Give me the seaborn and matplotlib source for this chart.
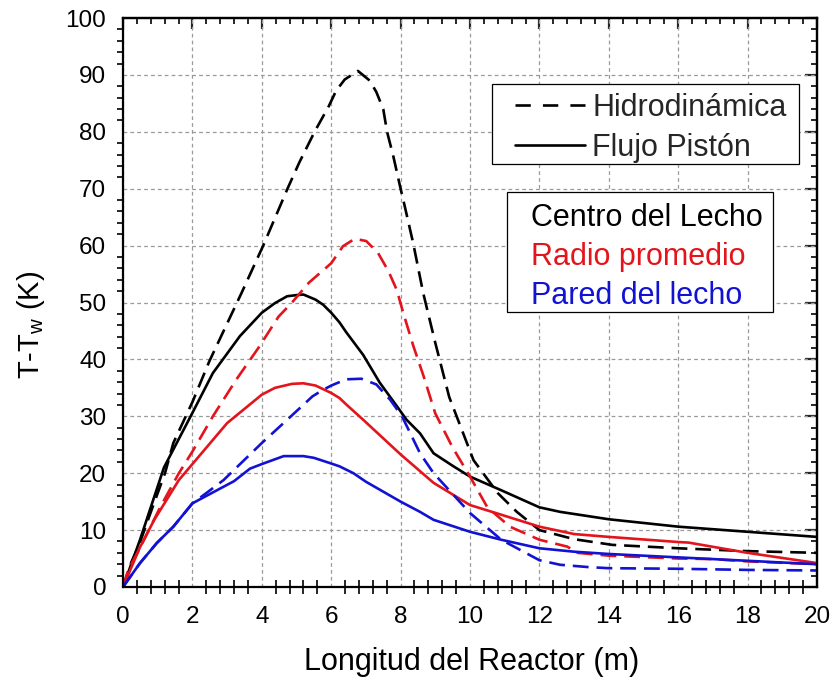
import matplotlib
matplotlib.use("Agg")
import matplotlib.pyplot as plt
from matplotlib.lines import Line2D
from matplotlib.patches import Rectangle
from matplotlib.ticker import MultipleLocator, AutoMinorLocator
import seaborn as sns
import pandas as pd

# Temperature rise over the wall temperature along the reactor length
x_hid_centro = [0, 0.25, 0.44, 0.85, 1.21, 1.45, 2.0, 2.49, 3.0, 3.41, 4.04, 4.74, 5.08, 5.52,
                5.93, 6.14, 6.39, 6.77, 7.11, 7.3, 7.5, 7.61, 7.79, 8.0, 8.12, 8.36, 8.65, 9.0,
                9.4, 10.1, 10.8, 11.35, 12.0, 13.0, 14.1, 16.0, 18.0, 20.0]
t_hid_centro = [0, 4.5, 7.0, 14.0, 20.0, 25.3, 32.5, 39.7, 46.3, 51.6, 60.0, 70.0, 74.6, 80.0,
                84.5, 87.2, 89.2, 90.7, 89.0, 87.0, 84.0, 80.0, 75.7, 70.0, 66.9, 60.5, 51.7,
                42.9, 33.4, 22.3, 16.5, 13.2, 10.0, 8.4, 7.4, 6.8, 6.3, 6.0]

x_pis_centro = [0, 0.49, 1.18, 2.0, 2.59, 3.37, 4.0, 4.38, 4.73, 5.0, 5.2, 5.55, 5.77, 6.0, 6.24,
                6.43, 6.92, 7.4, 7.89, 8.17, 8.56, 8.95, 9.5, 10.0, 10.9, 12.0, 12.6, 14.0, 16.0,
                18.0, 20.0]
t_pis_centro = [0, 8.3, 21.0, 30.6, 37.6, 44.1, 48.2, 49.9, 51.1, 51.3, 51.4, 50.5, 49.6, 48.2,
                46.5, 44.8, 40.8, 35.9, 31.8, 29.4, 27.0, 23.5, 21.3, 19.4, 17.0, 14.0, 13.2,
                11.9, 10.6, 9.7, 8.8]

x_hid_prom = [0, 0.15, 0.5, 1.07, 1.61, 2.0, 2.59, 3.27, 3.9, 4.48, 4.87, 5.36, 6.0, 6.34, 6.68,
              7.01, 7.35, 7.65, 7.89, 8.08, 8.37, 8.66, 9.0, 9.5, 10.0, 10.5, 11.15, 12.0, 12.8,
              13.1, 14.0, 16.0, 17.0, 18.0, 20.0]
t_hid_prom = [0, 3.0, 7.0, 14.0, 20.0, 23.8, 30.0, 36.5, 42.0, 47.5, 50.0, 53.5, 56.9, 59.9,
              61.2, 60.8, 58.7, 55.5, 52.2, 48.1, 42.3, 37.1, 30.5, 24.5, 19.4, 14.0, 10.6, 8.3,
              7.1, 6.0, 5.5, 5.0, 4.9, 4.5, 4.0]

x_pis_prom = [0, 0.49, 0.9, 1.61, 2.0, 3.0, 4.0, 4.38, 4.87, 5.2, 5.55, 6.0, 6.24, 6.43, 6.92,
              8.0, 8.95, 10.0, 10.9, 12.0, 13.0, 14.0, 16.0, 16.3, 18.0, 20.0]
t_pis_prom = [0, 7.0, 11.8, 18.8, 21.6, 28.8, 33.8, 35.0, 35.7, 35.8, 35.4, 34.1, 33.2, 32.1,
              29.4, 23.3, 18.3, 14.4, 12.7, 10.6, 9.3, 8.8, 7.9, 7.8, 6.0, 4.2]

x_hid_pared = [0, 0.49, 0.97, 1.45, 2.0, 2.4, 2.9, 4.0, 4.84, 5.46, 5.75, 6.0, 6.43, 6.87, 7.3,
               7.7, 8.04, 8.56, 8.95, 10.0, 10.9, 12.0, 12.6, 13.4, 14.0, 16.0, 18.0, 20.0]
t_hid_pared = [0, 4.2, 7.7, 10.6, 14.7, 16.5, 18.8, 25.3, 30.0, 33.5, 34.6, 35.4, 36.5, 36.6,
               35.6, 32.9, 30.0, 23.5, 20.0, 13.0, 8.3, 4.7, 3.9, 3.5, 3.3, 3.2, 3.0, 2.9]

x_pis_pared = [0, 0.49, 0.97, 1.45, 2.0, 3.2, 3.66, 4.0, 4.63, 5.2, 5.5, 6.0, 6.24, 6.64, 7.0,
               8.0, 8.56, 8.95, 10.0, 10.9, 12.0, 13.0, 14.0, 16.0, 18.0, 20.0]
t_pis_pared = [0, 4.2, 7.7, 10.6, 14.7, 18.6, 20.8, 21.6, 23.0, 23.0, 22.7, 21.7, 21.2, 20.0,
               18.5, 15.0, 13.2, 11.8, 9.7, 8.3, 6.8, 6.2, 5.8, 5.2, 4.6, 4.0]

modelos = ["Hidrodinámica", "Flujo Pistón"]
posiciones = ["Centro del Lecho", "Radio promedio", "Pared del lecho"]
colores = {"Centro del Lecho": "#000000",
           "Radio promedio": "#e3141c",
           "Pared del lecho": "#1212d2"}
x_ticks = [0, 2, 4, 6, 8, 10, 12, 14, 16, 18, 20]
y_ticks = [0, 10, 20, 30, 40, 50, 60, 70, 80, 90, 100]

series = [
    ("Centro del Lecho", "Hidrodinámica", x_hid_centro, t_hid_centro),
    ("Centro del Lecho", "Flujo Pistón", x_pis_centro, t_pis_centro),
    ("Radio promedio", "Hidrodinámica", x_hid_prom, t_hid_prom),
    ("Radio promedio", "Flujo Pistón", x_pis_prom, t_pis_prom),
    ("Pared del lecho", "Hidrodinámica", x_hid_pared, t_hid_pared),
    ("Pared del lecho", "Flujo Pistón", x_pis_pared, t_pis_pared),
]
df = pd.concat(
    [pd.DataFrame({"L": xs, "dT": ts, "Posición": pos, "Modelo": mod})
     for pos, mod, xs, ts in series],
    ignore_index=True,
)

sns.set_theme(style="white")
plt.rcParams["font.family"] = ["Liberation Sans", "DejaVu Sans"]
plt.rcParams["mathtext.fontset"] = "custom"
plt.rcParams["mathtext.rm"] = "Liberation Sans"

LW = 1.9
DASH = (6.0, 3.0)
DASH_LEG = (5.8, 4.6)
FS_TICK = 17.5
FS_LABEL = 22
FS_LEG = 22

fig = plt.figure(figsize=(8.34, 6.83), dpi=100)
ax = fig.add_axes([0.1475, 0.1406, 0.8321, 0.833])

sns.lineplot(data=df, x="L", y="dT", hue="Posición", style="Modelo",
             hue_order=posiciones, style_order=modelos, palette=colores,
             dashes={"Hidrodinámica": DASH, "Flujo Pistón": ""},
             estimator=None, sort=False, legend=False, linewidth=LW, ax=ax)

ax.set_xlim(0, 20)
ax.set_ylim(0, 100)
ax.set_xticks(x_ticks)
ax.set_yticks(y_ticks)
ax.xaxis.set_minor_locator(AutoMinorLocator(5))
ax.yaxis.set_minor_locator(AutoMinorLocator(5))

ax.grid(True, which="major", color="#9a9a9a", linestyle=(0, (3, 2.5)), linewidth=0.9)
ax.set_axisbelow(True)

for sp in ax.spines.values():
    sp.set_linewidth(1.6)
    sp.set_color("black")

ax.tick_params(axis="x", which="major", direction="inout", length=17, width=1.6,
               labelsize=FS_TICK, pad=5, top=False, colors="black")
ax.tick_params(axis="x", which="minor", direction="inout", length=10, width=1.4,
               top=False, bottom=True)
ax.tick_params(axis="y", which="major", direction="out", length=8, width=1.6,
               labelsize=FS_TICK, pad=4, right=False, colors="black")
ax.tick_params(axis="y", which="minor", direction="out", length=4.5, width=1.4,
               left=True, right=False)

# Inward ticks on the top and right frame edges
top = ax.secondary_xaxis("top")
top.set_xticks(x_ticks)
top.xaxis.set_minor_locator(MultipleLocator(0.4))
top.tick_params(axis="x", which="major", direction="in", length=8, width=1.6, labeltop=False)
top.tick_params(axis="x", which="minor", direction="in", length=4.5, width=1.4)
top.spines["top"].set_linewidth(1.6)
right = ax.secondary_yaxis("right")
right.set_yticks(y_ticks)
right.yaxis.set_minor_locator(MultipleLocator(2))
right.tick_params(axis="y", which="major", direction="in", length=8.5, width=1.6, labelright=False)
right.tick_params(axis="y", which="minor", direction="in", length=4.5, width=1.4)
right.spines["right"].set_linewidth(1.6)

ax.set_xlabel("Longitud del Reactor (m)", fontsize=FS_LABEL, color="black")
ax.set_ylabel(r"T-T$_\mathregular{w}$ (K)", fontsize=21, color="black")
ax.xaxis.set_label_coords(0.502, -0.106)
ax.yaxis.set_label_coords(-0.11, 0.46)

# Legend frames
for x0, y0, x1, y1 in [(0.5317, 0.7434, 0.9741, 0.8840), (0.5533, 0.4833, 0.9366, 0.6942)]:
    ax.add_patch(Rectangle((x0, y0), x1 - x0, y1 - y0, transform=ax.transAxes,
                           facecolor="white", edgecolor="black", linewidth=0.9, zorder=4.5))

# Line-style legend (model)
h_model = [Line2D([], [], color="black", linewidth=LW, dashes=DASH_LEG),
           Line2D([], [], color="black", linewidth=LW)]
leg1 = ax.legend(h_model, modelos, loc="center left", bbox_to_anchor=(0.565, 0.8067),
                 borderaxespad=0, borderpad=0, fontsize=FS_LEG, frameon=False,
                 handlelength=2.29, handletextpad=0.24, labelspacing=0.32)
leg1.set_zorder(5)
ax.add_artist(leg1)

# Colour legend (radial position), text only
h_pos = [Line2D([], [], color=colores[p], linestyle="none") for p in posiciones]
leg2 = ax.legend(h_pos, posiciones, loc="center left", bbox_to_anchor=(0.5879, 0.58),
                 borderaxespad=0, borderpad=0, fontsize=FS_LEG, frameon=False,
                 handlelength=0, handletextpad=0, labelspacing=0.3,
                 labelcolor=[colores[p] for p in posiciones])
leg2.set_zorder(5)

fig.savefig("out.png", dpi=100)
